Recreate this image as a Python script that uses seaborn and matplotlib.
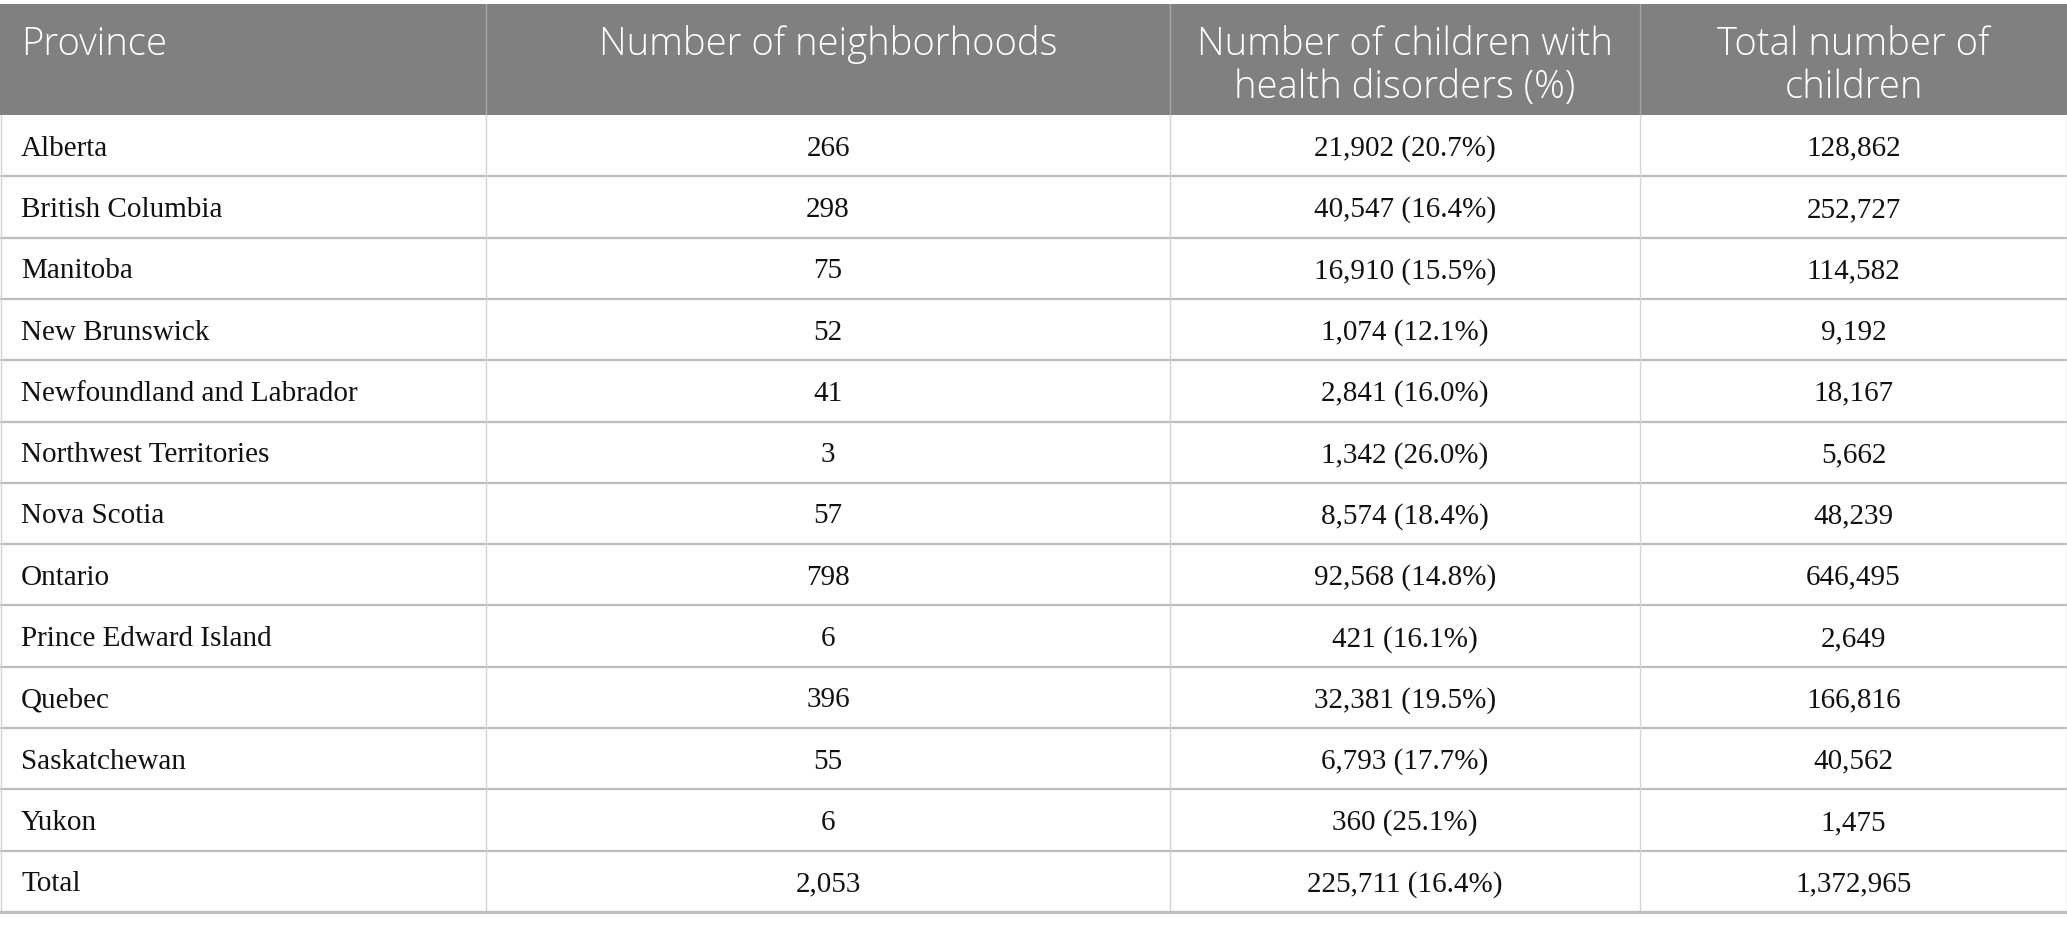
import matplotlib
matplotlib.use("Agg")
import matplotlib.pyplot as plt
import seaborn as sns

# table content
headers = [["Province"],
           ["Number of neighborhoods"],
           ["Number of children with", "health disorders (%)"],
           ["Total number of", "children"]]
provinces = ["Alberta", "British Columbia", "Manitoba", "New Brunswick",
             "Newfoundland and Labrador", "Northwest Territories", "Nova Scotia",
             "Ontario", "Prince Edward Island", "Quebec", "Saskatchewan", "Yukon",
             "Total"]
neighborhoods = [266, 298, 75, 52, 41, 3, 57, 798, 6, 396, 55, 6, 2053]
disorder_n = [21902, 40547, 16910, 1074, 2841, 1342, 8574, 92568, 421, 32381,
              6793, 360, 225711]
disorder_pct = [20.7, 16.4, 15.5, 12.1, 16.0, 26.0, 18.4, 14.8, 16.1, 19.5,
                17.7, 25.1, 16.4]
total_children = [128862, 252727, 114582, 9192, 18167, 5662, 48239, 646495,
                  2649, 166816, 40562, 1475, 1372965]

# layout (pixels of the output image)
W, H = 2067, 931
col_edges = [0, 486, 1170, 1640, W]
head_top, head_bot = 4, 115
row_h = 61.3
line_gap = 43

sns.set_theme(style="white")
plt.rcParams["font.family"] = ["Liberation Serif", "DejaVu Serif"]

fig = plt.figure(figsize=(W / 100, H / 100), dpi=100)
ax = fig.add_axes([0, 0, 1, 1])
ax.set_xlim(0, W)
ax.set_ylim(H, 0)
ax.axis("off")

# header band
ax.fill_between([0, W], head_top, head_bot, color="#7f807f", lw=0)
for x in col_edges[1:-1]:
    ax.plot([x, x], [head_top, head_bot], color="#a6a6a6", lw=1)

sans = ["Open Sans", "DejaVu Sans"]
for j, lines in enumerate(headers):
    left, right = col_edges[j], col_edges[j + 1]
    for k, txt in enumerate(lines):
        y = head_top + 41 + k * line_gap
        if j == 0:
            ax.text(left + 21, y, txt, ha="left", va="center", color="white",
                    fontsize=27.5, family=sans, fontweight="light")
        else:
            ax.text((left + right) / 2, y, txt, ha="center", va="center",
                    color="white", fontsize=27.5, family=sans,
                    fontweight="light")

# body rows
cells = []
for i in range(len(provinces)):
    cells.append([provinces[i],
                  f"{neighborhoods[i]:,}",
                  f"{disorder_n[i]:,} ({disorder_pct[i]:.1f}%)",
                  f"{total_children[i]:,}"])

bottom = head_bot + row_h * len(cells)
for i, row in enumerate(cells):
    y0 = head_bot + i * row_h
    yc = y0 + row_h / 2 + 3
    for j, txt in enumerate(row):
        left, right = col_edges[j], col_edges[j + 1]
        if j == 0:
            ax.text(left + 21, yc, txt, ha="left", va="center",
                    fontsize=21, color="#111111")
        else:
            ax.text((left + right) / 2, yc, txt, ha="center", va="center",
                    fontsize=21, color="#111111")
    ax.plot([0, W], [y0 + row_h, y0 + row_h], color="#bdbdbd", lw=1.6)

for x in col_edges[1:-1]:
    ax.plot([x, x], [head_bot, bottom], color="#d4d4d4", lw=1)
ax.plot([0.5, 0.5], [head_bot, bottom], color="#d4d4d4", lw=1)
ax.plot([W - 0.5, W - 0.5], [head_bot, bottom], color="#d4d4d4", lw=1)
ax.plot([0, W], [bottom, bottom], color="#bdbdbd", lw=2.2)

fig.savefig("out.png", dpi=100)
plt.close(fig)
